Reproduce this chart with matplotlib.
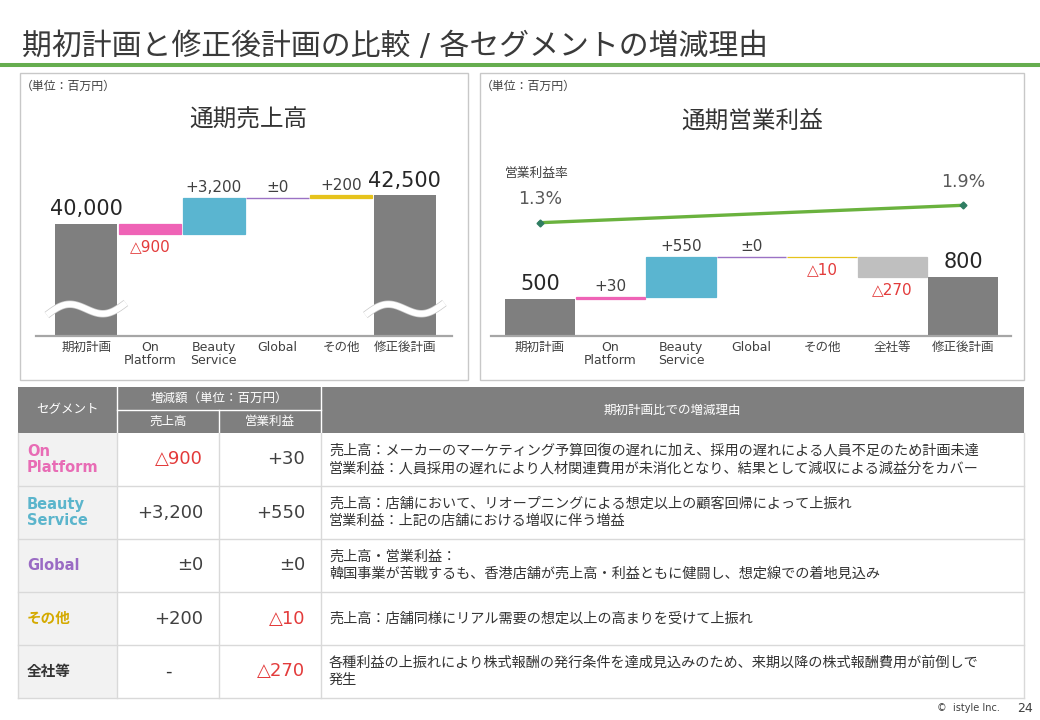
import numpy as np
import matplotlib
matplotlib.use('Agg')
import matplotlib.pyplot as plt
from matplotlib.patches import Rectangle

plt.rcParams['font.family'] = ['DejaVu Sans', 'Noto Sans CJK JP']

W, H = 1040, 720

# --- data ---
sales_labels = ['期初計画', 'On\nPlatform', 'Beauty\nService', 'Global', 'その他', '修正後計画']
sales_base = 40000
sales_deltas = [-900, 3200, 0, 200]
sales_total = 42500

op_labels = ['期初計画', 'On\nPlatform', 'Beauty\nService', 'Global', 'その他', '全社等', '修正後計画']
op_base = 500
op_deltas = [30, 550, 0, -10, -270]
op_total = 800
margin_pct = [1.3, 1.9]

seg_names = ['On\nPlatform', 'Beauty\nService', 'Global', 'その他', '全社等']
seg_sales = sales_deltas + [None]
seg_op = op_deltas
reasons = [
    '売上高：メーカーのマーケティング予算回復の遅れに加え、採用の遅れによる人員不足のため計画未達\n'
    '営業利益：人員採用の遅れにより人材関連費用が未消化となり、結果として減収による減益分をカバー',
    '売上高：店舗において、リオープニングによる想定以上の顧客回帰によって上振れ\n'
    '営業利益：上記の店舗における増収に伴う増益',
    '売上高・営業利益：\n'
    '韓国事業が苦戦するも、香港店舗が売上高・利益ともに健闘し、想定線での着地見込み',
    '売上高：店舗同様にリアル需要の想定以上の高まりを受けて上振れ',
    '各種利益の上振れにより株式報酬の発行条件を達成見込みのため、来期以降の株式報酬費用が前倒しで\n'
    '発生',
]

bar_colors = ['#ef63b6', '#5ab5d0', '#9b72c4', '#e6c31c', '#bfbfbf']
seg_text_colors = ['#e86cb5', '#5bb5cc', '#9a6bc4', '#d4aa00', '#333333']
GRAY = '#7f7f7f'
RED = '#e33b3b'
TXT = '#404040'


def fmt(v):
    if v is None:
        return '-'
    if v < 0:
        return f'△{-v:,}'
    if v == 0:
        return '±0'
    return f'+{v:,}'


fig = plt.figure(figsize=(W / 100, H / 100), dpi=100)

# pixel overlay for slide decoration and table
bg = fig.add_axes([0, 0, 1, 1], zorder=-1)
bg.set_xlim(0, W)
bg.set_ylim(H, 0)
bg.axis('off')

bg.text(22, 47, '期初計画と修正後計画の比較 / 各セグメントの増減理由',
        fontsize=21.5, color='#3a3a3a', va='center', ha='left')
bg.plot([0, W], [64.7, 64.7], color='#66ad4f', lw=2.9, solid_capstyle='butt')

for x0, x1 in [(20, 468), (480, 1024)]:
    bg.add_patch(Rectangle((x0, 73), x1 - x0, 307, fill=False, ec='#c8c8c8', lw=1))
    bg.text(x0 + 1, 86, '（単位：百万円）', fontsize=8.6, color=TXT, va='center')
bg.text(248, 120, '通期売上高', fontsize=17, color='#333333', ha='center', va='center')
bg.text(752, 121, '通期営業利益', fontsize=17, color='#333333', ha='center', va='center')
bg.text(537, 173, '営業利益率', fontsize=9.2, color=TXT, ha='center', va='center')


def style_axis(ax, labels):
    ax.set_facecolor('none')
    for s in ['top', 'left', 'right']:
        ax.spines[s].set_visible(False)
    ax.spines['bottom'].set_color('#a6a6a6')
    ax.spines['bottom'].set_linewidth(1.6)
    ax.set_yticks([])
    ax.set_xticks(np.arange(len(labels)))
    ax.set_xticklabels(labels)
    ax.tick_params(axis='x', length=0, pad=4, labelsize=9, labelcolor=TXT)
    for lbl in ax.get_xticklabels():
        lbl.set_linespacing(1.0)


def waterfall(ax, labels, base, deltas, total, width):
    n = len(labels)
    ax.bar([0, n - 1], [base, total], width=width, color=GRAY, zorder=2)
    ax.annotate(f'{base:,}', (0, base), xytext=(0, 10.5), textcoords='offset points',
                ha='center', va='center', fontsize=15, color='#262626')
    ax.annotate(f'{total:,}', (n - 1, total), xytext=(0, 10.5), textcoords='offset points',
                ha='center', va='center', fontsize=15, color='#262626')
    run = base
    for i, d in enumerate(deltas, start=1):
        c = bar_colors[i - 1]
        if d == 0:
            ax.hlines(run, i - width / 2, i + width / 2, color=c, lw=1, zorder=2)
        else:
            ax.bar(i, abs(d), bottom=min(run, run + d), width=width, color=c,
                   edgecolor=c, lw=0.9, zorder=2)
        if d >= 0:
            ax.annotate(fmt(d), (i, run + d), xytext=(0, 7.5), textcoords='offset points',
                        ha='center', va='center', fontsize=11, color=TXT)
        else:
            ax.annotate(fmt(d), (i, run + d), xytext=(0, -9), textcoords='offset points',
                        ha='center', va='center', fontsize=11, color=RED)
        run += d


def draw_break(ax, xc, yc_px):
    # wavy white cut across a bar; off is a downward pixel offset
    y0, y1 = ax.get_ylim()
    per_px = (y1 - y0) / ax.bbox.height
    t = np.linspace(0, 1, 80)
    xs = xc - 0.62 + 1.24 * t
    off = -(7.5 * np.sin(2 * np.pi * t) + 12 * (t - 0.5))
    ys = y0 + (yc_px - off) * per_px
    ax.plot(xs, ys, color='#c8c8c8', lw=5.4, zorder=3, solid_capstyle='butt')
    ax.plot(xs, ys, color='white', lw=4.4, zorder=4, solid_capstyle='butt')


# --- sales waterfall (broken axis) ---
ax1 = fig.add_axes([36 / W, 1 - 335.7 / H, 416 / W, 175.7 / H])
style_axis(ax1, sales_labels)
ax1.set_xlim(-0.79, 5.74)
ax1.set_ylim(30230, 30230 + 175.7 * 87.5)
waterfall(ax1, sales_labels, sales_base, sales_deltas, sales_total, 0.975)
for xc in [0, len(sales_labels) - 1]:
    draw_break(ax1, xc, 335.7 - 309)

# --- operating profit waterfall ---
ax2 = fig.add_axes([491 / W, 1 - 335.7 / H, 520 / W, 175.7 / H])
style_axis(ax2, op_labels)
ax2.set_xlim(-0.695, 6.68)
ax2.set_ylim(0, 175.7 * 13.64)
waterfall(ax2, op_labels, op_base, op_deltas, op_total, 0.985)

ax2t = ax2.twinx()
ax2t.set_facecolor('none')
ax2t.set_ylim(-2.597, 3.462)
for s in ax2t.spines.values():
    s.set_visible(False)
ax2t.set_yticks([])
mx = [0, len(op_labels) - 1]
ax2t.plot(mx, margin_pct, color='#6ab23e', lw=2.4, zorder=3)
ax2t.plot(mx, margin_pct, ls='none', marker='D', ms=3.5, color='#2f7d62', zorder=4)
for x, v in zip(mx, margin_pct):
    ax2t.annotate(f'{v}%', (x, v), xytext=(0, 17), textcoords='offset points',
                  ha='center', va='center', fontsize=12.5, color='#595959')

# --- table ---
TL, TR = 18, 1024
cols = [18, 117, 219, 321, 1024]
head_top, head_mid, head_bot = 387, 410, 433
row_h = 53

bg.add_patch(Rectangle((TL, head_top), TR - TL, head_bot - head_top, color='#7f7f7f', lw=0))
bg.plot([117, 117], [head_top, head_bot], color='white', lw=1)
bg.plot([321, 321], [head_top, head_bot], color='white', lw=1)
bg.plot([219, 219], [head_mid, head_bot], color='white', lw=1)
bg.plot([117, 321], [head_mid, head_mid], color='white', lw=1)
hk = dict(color='white', fontsize=9, ha='center', va='center')
bg.text(67.5, (head_top + head_bot) / 2, 'セグメント', **hk)
bg.text(219, (head_top + head_mid) / 2, '増減額（単位：百万円）', **hk)
bg.text(168, (head_mid + head_bot) / 2, '売上高', **hk)
bg.text(270, (head_mid + head_bot) / 2, '営業利益', **hk)
bg.text(672, (head_top + head_bot) / 2, '期初計画比での増減理由', **hk)

n_rows = len(seg_names)
body_bot = head_bot + row_h * n_rows
bg.add_patch(Rectangle((TL, head_bot), 117 - TL, body_bot - head_bot, color='#f2f2f2', lw=0))
for i in range(1, n_rows + 1):
    y = head_bot + row_h * i
    bg.plot([TL, TR], [y, y], color='#d9d9d9', lw=1)
for x in cols:
    bg.plot([x, x], [head_bot, body_bot], color='#d9d9d9', lw=1)

for i, (name, s, o, r) in enumerate(zip(seg_names, seg_sales, seg_op, reasons)):
    yc = head_bot + row_h * (i + 0.5)
    bg.text(27, yc, name, fontsize=10.5, fontweight='bold', color=seg_text_colors[i],
            ha='left', va='center', linespacing=1.15)
    if s is None:
        bg.text(168, yc, fmt(s), fontsize=13, color='#333333', ha='center', va='center')
    else:
        bg.text(203, yc, fmt(s), fontsize=13, color=RED if s < 0 else TXT,
                ha='right', va='center')
    bg.text(305, yc, fmt(o), fontsize=13, color=RED if o < 0 else TXT,
            ha='right', va='center')
    bg.text(329, yc, r, fontsize=10.2, color='#333333', ha='left', va='center',
            linespacing=1.3)

bg.text(1000, 708, '©  istyle Inc.', fontsize=7, color=TXT, ha='right', va='center')
bg.text(1033, 708, '24', fontsize=9, color=TXT, ha='right', va='center')

fig.savefig('out.png', dpi=100)
